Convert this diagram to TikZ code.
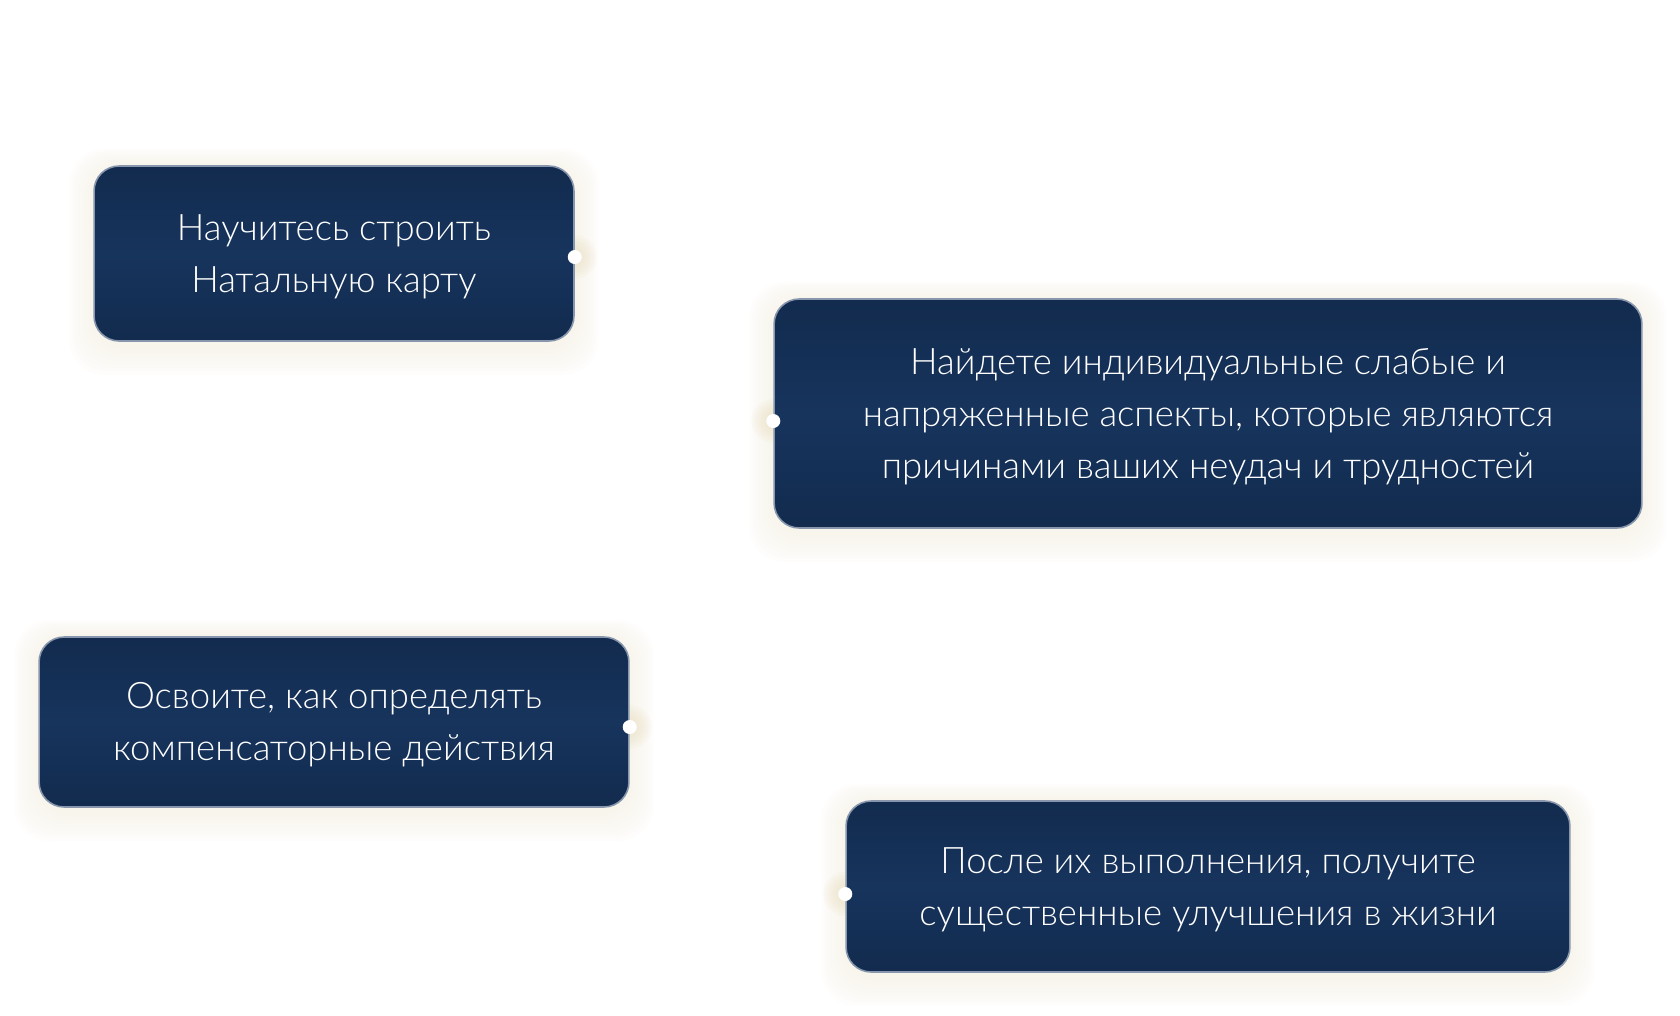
\documentclass[tikz,border=0pt]{standalone}
\usepackage{fontspec}
\setmainfont{Lato}[UprightFont=* Light]
\usetikzlibrary{backgrounds,positioning}
\definecolor{navy}{HTML}{17345D}
\definecolor{navydark}{HTML}{122B4E}
\definecolor{edge}{HTML}{8796AC}
\definecolor{cream}{HTML}{EADFC0}
\tikzset{
  card/.style={rounded corners=0.5cm, draw=edge, line width=0.9pt,
    top color=navydark, bottom color=navydark, middle color=navy, inner sep=0pt},
  cardtext/.style={text=white, align=center, font=\fontsize{20.8}{29.6}\selectfont,
    inner sep=0pt, yshift=-0.06cm},
  dotmark/.style={circle, fill=white, inner sep=0pt, minimum size=0.28cm},
}
\newcommand{\glowcard}[1]{%
  \foreach \k in {1,...,8} {
    \fill[cream, opacity=0.035, rounded corners=0.7cm]
      ([shift={(-\k*0.06cm,-\k*0.07cm-0.1cm)}]#1.south west) rectangle
      ([shift={(\k*0.06cm,\k*0.04cm)}]#1.north east);
  }}
\newcommand{\glowdot}[1]{%
  \foreach \k in {1,...,5} {
    \fill[cream, opacity=0.12] (#1) circle ({0.14cm+\k*0.06cm});
  }}
\begin{document}
\begin{tikzpicture}[x=0.02cm,y=-0.02cm]
\useasboundingbox (0,0) rectangle (1680,1015);
\node[card, minimum width=9.6cm, minimum height=3.5cm] (b1) at (334,253.5) {};
\node[cardtext] (t1) at (b1.center) {Научитесь строить\\Натальную карту};
\node[card, minimum width=17.36cm, minimum height=4.58cm] (b2) at (1208,413.5) {};
\node[cardtext] (t2) at (b2.center)
  {Найдете индивидуальные слабые и\\напряженные аспекты, которые являются\\причинами ваших неудач и трудностей};
\node[card, minimum width=11.8cm, minimum height=3.4cm] (b3) at (334,722) {};
\node[cardtext] (t3) at (b3.center) {Освоите, как определять\\компенсаторные действия};
\node[card, minimum width=14.48cm, minimum height=3.42cm] (b4) at (1208,886.5) {};
\node[cardtext] (t4) at (b4.center) {После их выполнения, получите\\существенные улучшения в жизни};
\node[dotmark] (d1) at (b1.east |- 0,257) {};
\node[dotmark] (d2) at (b2.west |- 0,421) {};
\node[dotmark] (d3) at (b3.east |- 0,727) {};
\node[dotmark] (d4) at (b4.west |- 0,894) {};
\begin{scope}[on background layer]
  \fill[white] (0,0) rectangle (1680,1015);
  \glowcard{b1}\glowcard{b2}\glowcard{b3}\glowcard{b4}
  \glowdot{d1}\glowdot{d2}\glowdot{d3}\glowdot{d4}
\end{scope}
\end{tikzpicture}
\end{document}
